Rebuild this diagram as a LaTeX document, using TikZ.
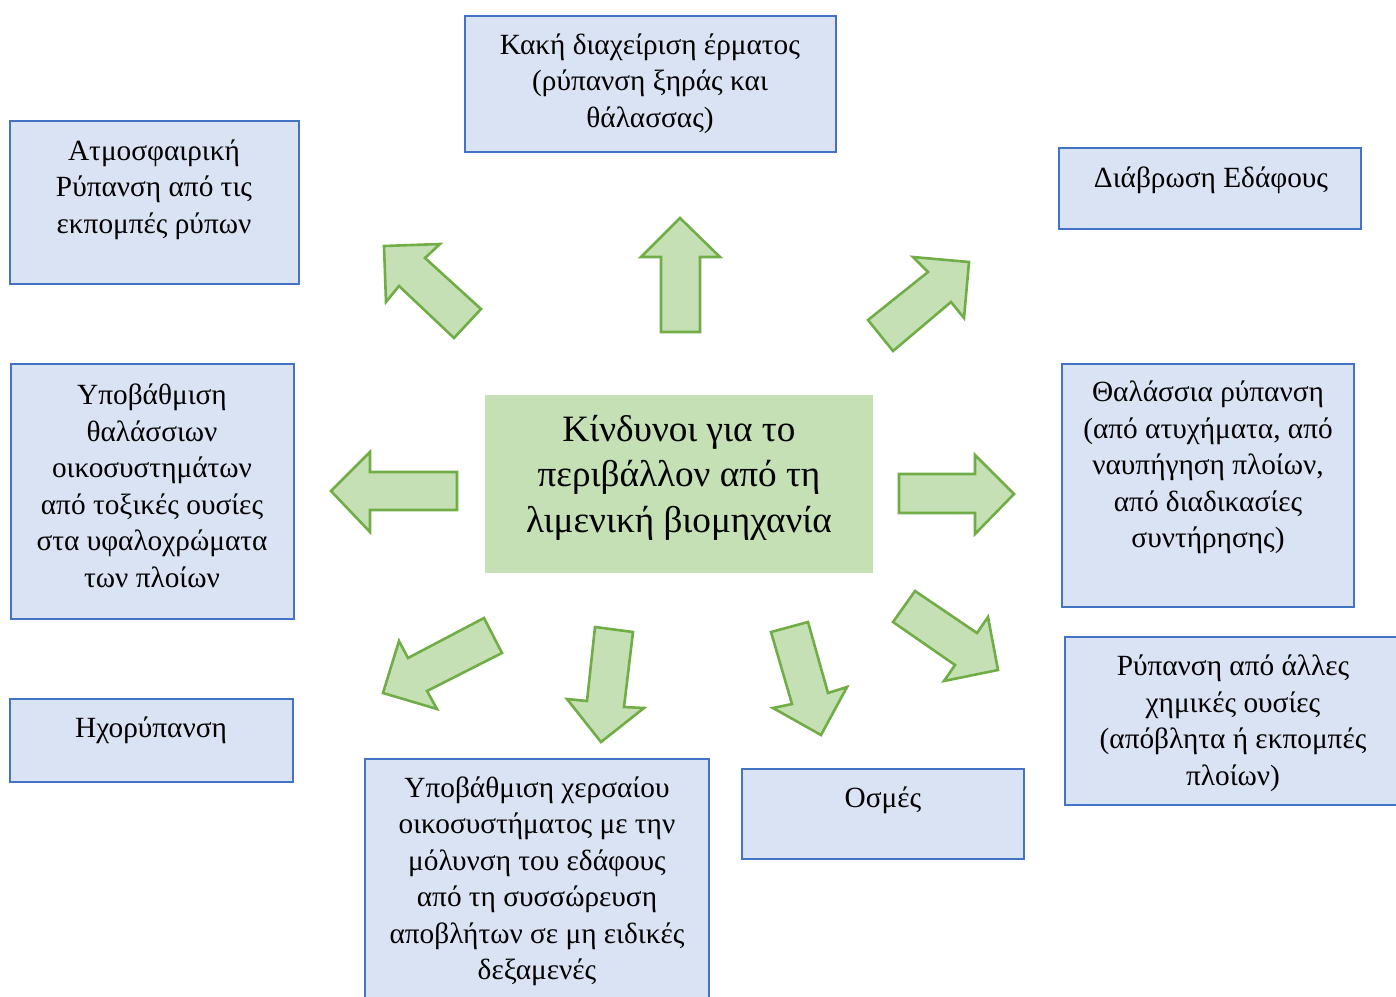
\documentclass[tikz,border=0pt]{standalone}
\usepackage{fontspec}
\setmainfont{Liberation Serif}
\definecolor{boxfill}{HTML}{DAE3F3}
\definecolor{boxline}{HTML}{4472C4}
\definecolor{arrfill}{HTML}{C5E0B4}
\definecolor{arrline}{HTML}{70AD47}
\tikzset{
  bluebox/.style={draw=boxline,fill=boxfill,line width=1.3pt,rectangle},
  greenbox/.style={fill=arrfill,rectangle},
  txt/.style={align=center,inner sep=0pt,font=\fontsize{29.3}{36.5}\selectfont},
  bigtxt/.style={align=center,inner sep=0pt,font=\fontsize{37.2}{45.5}\selectfont},
  blockarrow/.style={draw=arrline,fill=arrfill,line width=2.6pt,line join=miter}
}
\begin{document}
\begin{tikzpicture}[x=1pt,y=-1pt]
\useasboundingbox (0,0) rectangle (1396,996);
% boxes
\draw[bluebox] (465,16) rectangle (836,152);
\node[txt] (t1) at (650,83.5) {Κακή διαχείριση έρματος\\(ρύπανση ξηράς και\\θάλασσας)};
\draw[bluebox] (10,121) rectangle (299,284);
\node[txt] (t2) at (154,189.5) {Ατμοσφαιρική\\Ρύπανση από τις\\εκπομπές ρύπων};
\draw[bluebox] (1059,148) rectangle (1361,229);
\node[txt] (t3) at (1211,180.5) {Διάβρωση Εδάφους};
\draw[bluebox] (11,364) rectangle (294,619);
\node[txt] (t4) at (152,486) {Υποβάθμιση\\θαλάσσιων\\οικοσυστημάτων\\από τοξικές ουσίες\\στα υφαλοχρώματα\\των πλοίων};
\draw[bluebox] (1062,364) rectangle (1354,607);
\node[txt] (t5) at (1208,467.5) {Θαλάσσια ρύπανση\\(από ατυχήματα, από\\ναυπήγηση πλοίων,\\από διαδικασίες\\συντήρησης)};
\draw[bluebox] (10,699) rectangle (293,782);
\node[txt] (t6) at (151,730.5) {Ηχορύπανση};
\draw[bluebox] (365,759) rectangle (709,1010);
\node[txt] (t7) at (537,881.5) {Υποβάθμιση χερσαίου\\οικοσυστήματος με την\\μόλυνση του εδάφους\\από τη συσσώρευση\\αποβλήτων σε μη ειδικές\\δεξαμενές};
\draw[bluebox] (742,769) rectangle (1024,859);
\node[txt] (t8) at (883,800.5) {Οσμές};
\draw[bluebox] (1065,637) rectangle (1400,805);
\node[txt] (t9) at (1233,723.5) {Ρύπανση από άλλες\\χημικές ουσίες\\(απόβλητα ή εκπομπές\\πλοίων)};
% centre
\fill[greenbox] (485,395) rectangle (873,573);
\node[bigtxt] (c) at (679,477.5) {Κίνδυνοι για το\\περιβάλλον από τη\\λιμενική βιομηχανία};
% arrows
\draw[blockarrow] (384,246) -- (440,244) -- (425,258) -- (481,309) -- (454,338) -- (399,286) -- (386,302) -- cycle;
\draw[blockarrow] (680,218) -- (720,257) -- (700,257) -- (700,332) -- (661,332) -- (661,257) -- (641,257) -- cycle;
\draw[blockarrow] (969,262) -- (913,257) -- (928,272) -- (868,320) -- (893,351) -- (951,302) -- (964,318) -- cycle;
\draw[blockarrow] (331,491) -- (370,452) -- (370,472) -- (457,472) -- (457,510) -- (370,510) -- (370,532) -- cycle;
\draw[blockarrow] (1014,494) -- (975,455) -- (975,474) -- (899,474) -- (899,513) -- (975,513) -- (975,534) -- cycle;
\draw[blockarrow] (383,693) -- (399,641) -- (408,658) -- (484,618) -- (502,653) -- (427,691) -- (437,709) -- cycle;
\draw[blockarrow] (601,742) -- (567,699) -- (587,701) -- (595,627) -- (633,632) -- (624,707) -- (644,708) -- cycle;
\draw[blockarrow] (821,735) -- (773,708) -- (792,704) -- (771,632) -- (808,622) -- (828,693) -- (847,687) -- cycle;
\draw[blockarrow] (998,670) -- (988,617) -- (977,633) -- (915,591) -- (893,622) -- (955,665) -- (944,681) -- cycle;
\end{tikzpicture}
\end{document}
